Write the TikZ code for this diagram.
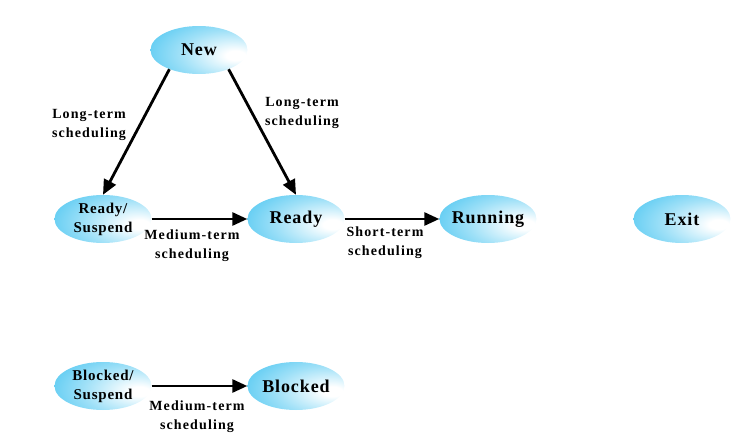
\documentclass[tikz,border=0pt]{standalone}
\usepackage{fontspec}
\setmainfont{Liberation Serif}
\newfontfamily\statefont[LetterSpace=5]{Liberation Serif}
\newfontfamily\lblfont[LetterSpace=8]{Liberation Serif}
\usetikzlibrary{shapes.geometric,arrows.meta,positioning}

\definecolor{procblue}{RGB}{64,194,240}
\pgfdeclareradialshading{procball}{\pgfpoint{20bp}{-6bp}}{%
  color(0bp)=(white);color(5bp)=(white);color(25bp)=(procblue!50);%
  color(48bp)=(procblue);color(100bp)=(procblue)}

\tikzset{
  state/.style={ellipse,shading=procball,minimum width=97pt,minimum height=48pt,
    inner xsep=-12pt,inner ysep=0pt,align=center,
    font=\statefont\fontsize{18}{18}\selectfont\bfseries},
  susp/.style={state,font=\statefont\fontsize{15}{19}\selectfont\bfseries},
  flow/.style={-{Triangle[length=15pt,width=13pt]},line width=2.8pt},
  lbl/.style={align=center,font=\lblfont\fontsize{14}{19}\selectfont\bfseries}
}

\begin{document}
\begin{tikzpicture}[x=1pt,y=-1pt]
    \useasboundingbox (0,0) rectangle (753,442);

    % States
    \node[state] (new) at (199,50) {New};
    \node[susp] (rsusp) at (103,219) {Ready/\\Suspend};
    \node[state] (ready) at (296,219) {Ready};
    \node[state] (running) at (488,219) {Running};
    \node[state] (exit) at (682,219) {Exit};
    \node[susp] (bsusp) at (103,386) {Blocked/\\Suspend};
    \node[state] (blocked) at (296,386) {Blocked};

    % Labels
    \node[lbl] (lt1) at (89,125) {Long-term\\scheduling};
    \node[lbl] (lt2) at (302,113) {Long-term\\scheduling};
    \node[lbl] (mt1) at (192,246) {Medium-term\\scheduling};
    \node[lbl] (st) at (385,243) {Short-term\\scheduling};
    \node[lbl] (mt2) at (197,417) {Medium-term\\scheduling};

    % Arrows
    \draw[flow] (new.213) -- (rsusp.north);
    \draw[flow] (new.327) -- (ready.north);
    \draw[flow] (rsusp) -- (ready);
    \draw[flow] (ready) -- (running);
    \draw[flow] (bsusp) -- (blocked);
\end{tikzpicture}
\end{document}
